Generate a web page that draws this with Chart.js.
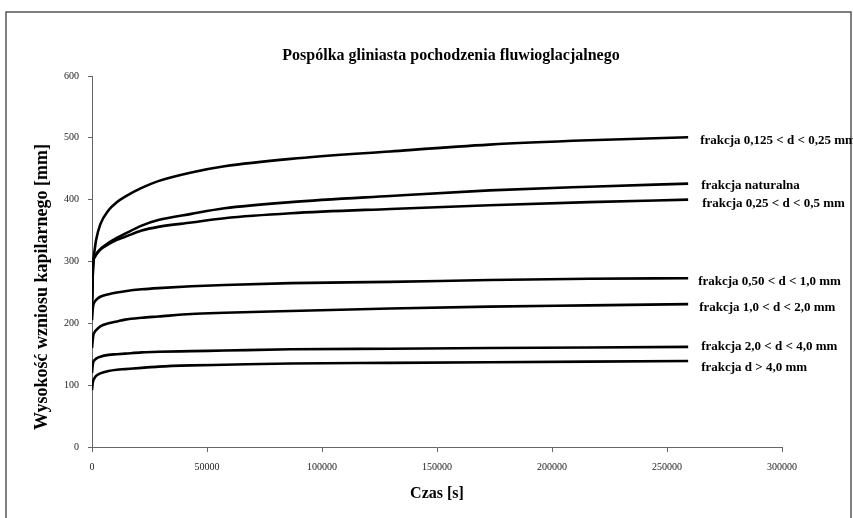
<!DOCTYPE html>
<html>
<head>
<meta charset="utf-8">
<script src="https://cdn.jsdelivr.net/npm/chart.js@4.4.0/dist/chart.umd.min.js"></script>
<style>
  html, body { margin: 0; padding: 0; background: #ffffff; }
  #wrap { width: 853px; height: 518px; position: relative; }
</style>
</head>
<body>
<div id="wrap"><canvas id="c" width="853" height="518"></canvas></div>
<script>
// Capillary rise over time for each soil fraction
const times = [0, 300, 600, 1200, 1800, 3600, 7200, 10800, 14400, 21600, 28800, 43200, 57600, 86400, 129600, 172800, 216000, 259200];

const seriesNames = [
  'frakcja 0,125 < d < 0,25 mm',
  'frakcja naturalna',
  'frakcja 0,25 < d < 0,5 mm',
  'frakcja 0,50 < d < 1,0 mm',
  'frakcja 1,0 < d < 2,0 mm',
  'frakcja 2,0 < d < 4,0 mm',
  'frakcja d > 4,0 mm'
];

const rise0125_025 = [240, 285, 302, 320, 335, 360, 383, 396, 405, 419, 430, 444, 454, 466, 478, 489, 496, 501];
const riseNatural  = [230, 275, 300, 308, 312, 320, 330, 338, 345, 358, 367, 377, 386, 396, 406, 415, 421, 426];
const rise025_05   = [230, 275, 300, 307, 311, 319, 328, 335, 340, 350, 356, 363, 370, 378, 385, 391, 396, 400];
const rise050_10   = [205, 222, 230, 235, 238, 243, 247, 250, 252, 255, 257, 260, 262, 265, 267, 270, 272, 273];
const rise10_20    = [160, 172, 181, 186, 189, 195, 200, 203, 206, 209, 211, 215, 217, 220, 224, 227, 229, 231];
const rise20_40    = [120, 132, 138, 141, 143, 146, 149, 150, 151, 153, 154, 155, 156, 158, 159, 160, 161, 162];
const riseOver40   = [92, 103, 108, 112, 115, 119, 123, 125, 126, 128, 130, 132, 133, 135, 136, 137, 138, 139];

const xTicksStep = 50000;
const yTicksStep = 100;

const allSeries = [rise0125_025, riseNatural, rise025_05, rise050_10, rise10_20, rise20_40, riseOver40];

// pixel nudges for the end-of-line captions
const captionDx = [12, 13, 14, 10, 11, 13, 13];
const captionDy = [3, 2, 4, 3, 3, 0, 7];

const SERIF = '"Liberation Serif", "Times New Roman", serif';

const datasets = allSeries.map((vals, i) => ({
  label: seriesNames[i],
  data: times.map((t, k) => ({ x: t, y: vals[k] })),
  borderColor: '#000000',
  backgroundColor: '#000000',
  borderWidth: 2.6,
  pointRadius: 0,
  fill: false,
  cubicInterpolationMode: 'monotone'
}));

const decorations = {
  id: 'decorations',
  afterDraw(chart) {
    const ctx = chart.ctx;
    const xs = chart.scales.x, ys = chart.scales.y;
    ctx.save();

    // outer frame
    ctx.strokeStyle = '#555555';
    ctx.lineWidth = 1.5;
    ctx.beginPath();
    ctx.moveTo(6, 530);
    ctx.lineTo(6, 12);
    ctx.lineTo(851, 12);
    ctx.lineTo(851, 530);
    ctx.stroke();

    // title
    ctx.fillStyle = '#000000';
    ctx.textAlign = 'center';
    ctx.textBaseline = 'middle';
    ctx.font = 'bold 16px ' + SERIF;
    ctx.fillText('Pospólka gliniasta pochodzenia fluwioglacjalnego', 451, 56);

    // axis titles
    ctx.font = 'bold 16px ' + SERIF;
    ctx.fillText('Czas [s]', 437, 494);
    ctx.save();
    ctx.translate(42, 287);
    ctx.rotate(-Math.PI / 2);
    ctx.font = 'bold 18px ' + SERIF;
    ctx.fillText('Wysokość wzniosu kapilarnego [mm]', 0, 0);
    ctx.restore();

    // captions at line ends
    ctx.textAlign = 'left';
    ctx.font = 'bold 13px ' + SERIF;
    allSeries.forEach((vals, i) => {
      const last = vals.length - 1;
      const px = xs.getPixelForValue(times[last]) + captionDx[i];
      const py = ys.getPixelForValue(vals[last]) + captionDy[i];
      ctx.fillText(seriesNames[i], px, py);
    });
    ctx.restore();
  }
};

new Chart(document.getElementById('c'), {
  type: 'line',
  data: { datasets },
  options: {
    responsive: false,
    animation: false,
    layout: { padding: { top: 76, right: 71, left: 0, bottom: 0 } },
    plugins: {
      legend: { display: false },
      tooltip: { enabled: false },
      title: { display: false }
    },
    scales: {
      x: {
        type: 'linear',
        min: 0,
        max: 300000,
        ticks: {
          stepSize: xTicksStep,
          maxRotation: 0,
          autoSkip: false,
          padding: 9,
          color: '#222222',
          font: { family: SERIF, size: 10 },
          callback: v => String(v)
        },
        grid: { display: true, drawOnChartArea: false, drawTicks: true, tickLength: 5, color: '#666666' },
        border: { display: true, color: '#666666', width: 1 },
        afterFit: s => { s.height = 71; }
      },
      y: {
        type: 'linear',
        min: 0,
        max: 600,
        ticks: {
          stepSize: yTicksStep,
          padding: 9,
          color: '#222222',
          font: { family: SERIF, size: 10 },
          callback: v => String(v)
        },
        grid: { display: true, drawOnChartArea: false, drawTicks: true, tickLength: 4, color: '#666666' },
        border: { display: true, color: '#666666', width: 1 },
        afterFit: s => { s.width = 92; }
      }
    }
  },
  plugins: [decorations]
});
</script>
</body>
</html>
